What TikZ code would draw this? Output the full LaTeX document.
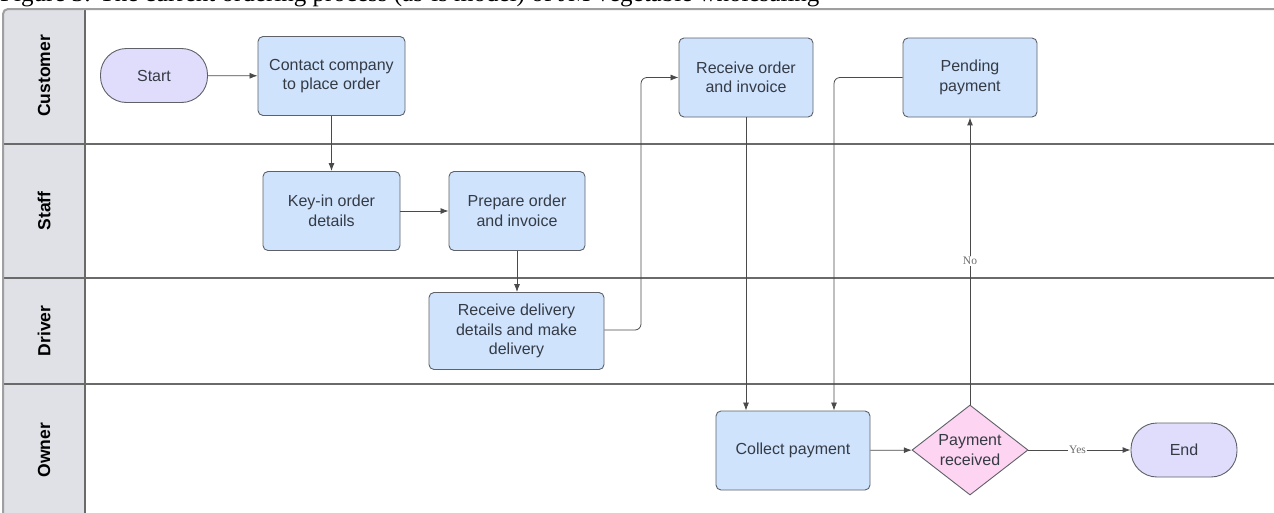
\documentclass[tikz,border=0pt]{standalone}
\usepackage{fontspec}
\setmainfont{Liberation Sans}
\newfontfamily\capfont{Liberation Serif}
\usetikzlibrary{arrows.meta,shapes.geometric}
\definecolor{taskfill}{HTML}{CFE3FD}
\definecolor{termfill}{HTML}{DFDDFB}
\definecolor{decfill}{HTML}{FDD4F1}
\definecolor{hdrfill}{HTML}{DFE1E6}
\definecolor{shapeline}{HTML}{5E6168}
\definecolor{textc}{HTML}{353B45}
\definecolor{wire}{HTML}{4A4A4A}
\definecolor{laneline}{HTML}{6A6A6A}
\tikzset{
  x=1pt, y=-1pt,
  base/.style={draw=shapeline, line width=0.9pt, text=textc, align=center,
    font=\fontsize{16}{19.5}\selectfont, inner sep=0pt},
  task/.style={base, fill=taskfill, rounded corners=5pt,
    minimum width=#1, minimum height=79pt},
  term/.style={base, fill=termfill, rounded corners=26pt,
    minimum width=107pt, minimum height=54pt},
  decision/.style={draw=shapeline, line width=0.9pt, fill=decfill, diamond,
    minimum width=116pt, minimum height=90pt, inner sep=0pt},
  dectext/.style={text=textc, align=center, font=\fontsize{16}{19.5}\selectfont},
  flow/.style={draw=wire, line width=0.8pt, rounded corners=6pt,
    -{Latex[length=8pt,width=6pt]}},
  lbl/.style={font=\capfont\fontsize{11.5}{13}\selectfont, text=gray!85!black,
    fill=white, inner sep=1pt},
  lanetitle/.style={rotate=90, font=\bfseries\fontsize{17.5}{20}\selectfont,
    text=black}
}
\begin{document}
\begin{tikzpicture}
\useasboundingbox (0,0) rectangle (1274,512);
\clip (0,0) rectangle (1274,512);
\fill[white] (0,0) rectangle (1274,512);

% caption line above the pool (only its lowest part lies inside the frame)
\node[anchor=base west, inner sep=0pt, text=black,
      font=\capfont\fontsize{25}{29}\selectfont] (caption) at (0,1)
  {Figure 3: The current ordering process (as-is model) of JM vegetable wholesaling};

% pool: header column, lane separators and outline
\fill[hdrfill, rounded corners=5pt] (3,540) -- (3,9) -- (85,9) -- (85,540) -- cycle;
\foreach \yy in {144,278,384}
  \draw[laneline, line width=1.3pt] (3,\yy) -- (1290,\yy);
\draw[laneline, line width=1.2pt] (85,9) -- (85,540);
\draw[gray!75, line width=2pt, rounded corners=5pt] (3,540) -- (3,9) -- (1290,9);

% lane titles
\node[lanetitle] (lcust) at (44,76) {Customer};
\node[lanetitle] (lstaff) at (44,211) {Staff};
\node[lanetitle] (ldriver) at (44,331) {Driver};
\node[lanetitle] (lowner) at (44,450) {Owner};

% process steps
\node[term] (start) at (154,75.5) {Start};
\node[task=147pt] (contact) at (331.5,76) {Contact company\\to place order};
\node[task=137pt] (keyin) at (331.5,211) {Key-in order\\details};
\node[task=136pt] (prepare) at (517,211) {Prepare order\\and invoice};
\node[task=175pt, minimum height=77pt] (delivery) at (516.5,331) {Receive delivery\\details and make\\delivery};
\node[task=134pt] (receive) at (746,77.5) {Receive order\\and invoice};
\node[task=134pt] (pending) at (970,77.5) {Pending\\payment};
\node[task=154pt] (collect) at (793,450.5) {Collect payment};
\node[decision] (dec) at (970,450) {};
\node[dectext] (dectxt) at (dec.center) {Payment\\received};
\node[term, minimum width=106pt] (finish) at (1184,450) {End};

% connectors
\draw[flow] (start) -- (contact);
\draw[flow] (contact) -- (keyin);
\draw[flow] (keyin) -- (prepare);
\draw[flow] (prepare.south) -- (prepare.south |- delivery.north);
\draw[flow] (delivery.east |- 0,330) -- (641,330) -- (641,77.5) -- (receive.west);
\draw[flow] (receive.south) -- (receive.south |- collect.north);
\draw[flow] (pending.west) -- (834,77.5) -- (834,0 |- collect.north);
\draw[flow] (collect) -- (dec);
\draw[flow, line width=1pt] (dec.north) -- node[lbl, pos=0.5] (nolbl) {No} (pending.south);
\draw[flow, line width=1pt] (dec.east) -- node[lbl, pos=0.48] (yeslbl) {Yes} (finish.west);
\end{tikzpicture}
\end{document}
